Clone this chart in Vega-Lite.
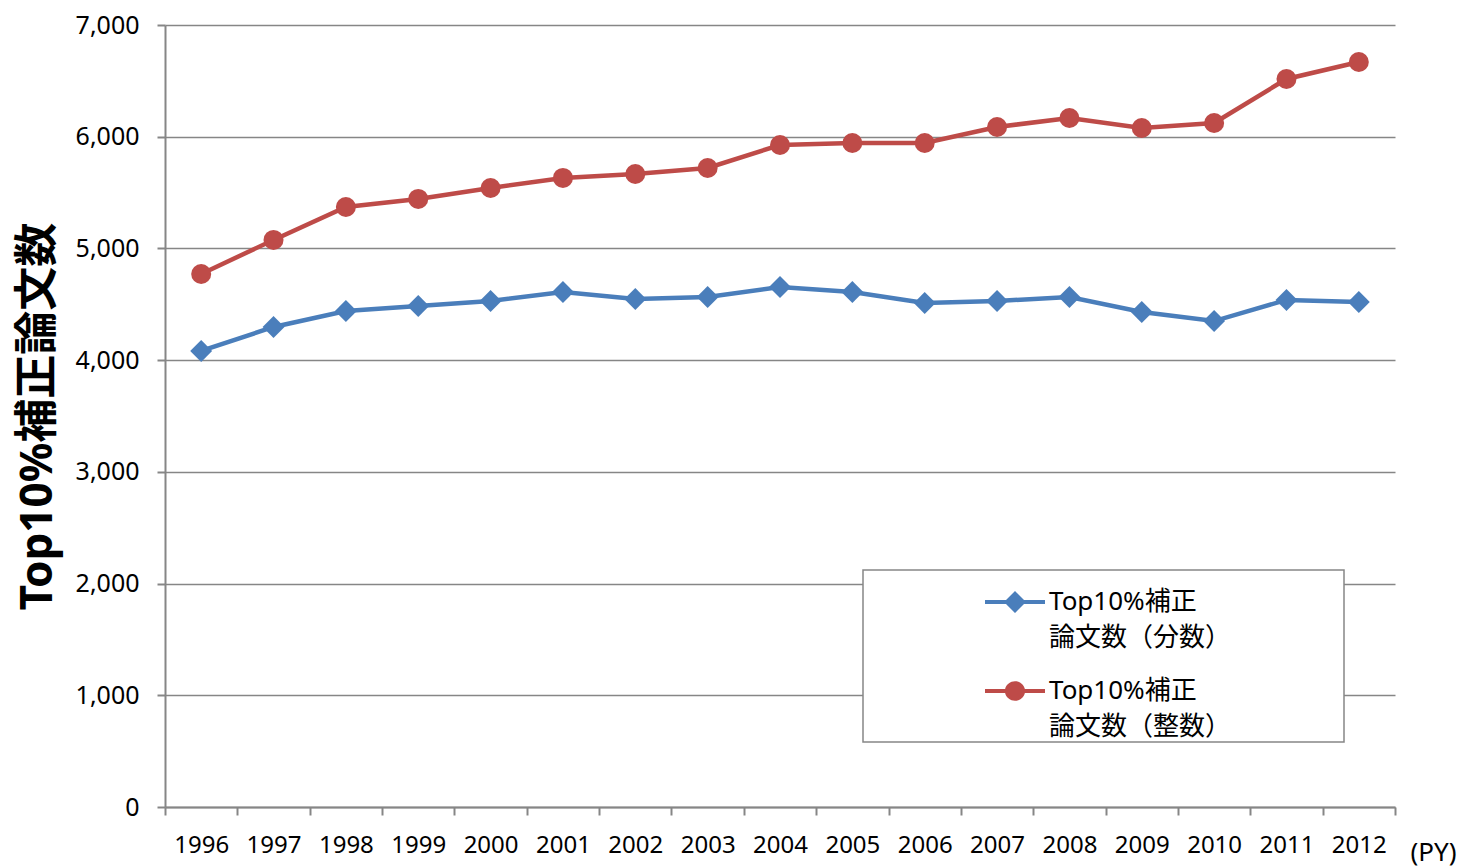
{
  "$schema": "https://vega.github.io/schema/vega-lite/v6.json",
  "width": 1230,
  "height": 782,
  "autosize": {"type": "none"},
  "padding": {"left": 165, "top": 25, "right": 71, "bottom": 60},
  "background": "white",
  "config": {"view": {"stroke": null}, "font": "'Noto Sans', 'Noto Sans CJK JP'"},
  "data": {"values": [
    {"year": "1996", "series": "Top10%補正論文数（分数）", "value": 4082},
    {"year": "1997", "series": "Top10%補正論文数（分数）", "value": 4297},
    {"year": "1998", "series": "Top10%補正論文数（分数）", "value": 4440},
    {"year": "1999", "series": "Top10%補正論文数（分数）", "value": 4485},
    {"year": "2000", "series": "Top10%補正論文数（分数）", "value": 4530},
    {"year": "2001", "series": "Top10%補正論文数（分数）", "value": 4610},
    {"year": "2002", "series": "Top10%補正論文数（分数）", "value": 4548},
    {"year": "2003", "series": "Top10%補正論文数（分数）", "value": 4565},
    {"year": "2004", "series": "Top10%補正論文数（分数）", "value": 4655},
    {"year": "2005", "series": "Top10%補正論文数（分数）", "value": 4610},
    {"year": "2006", "series": "Top10%補正論文数（分数）", "value": 4512},
    {"year": "2007", "series": "Top10%補正論文数（分数）", "value": 4530},
    {"year": "2008", "series": "Top10%補正論文数（分数）", "value": 4565},
    {"year": "2009", "series": "Top10%補正論文数（分数）", "value": 4431},
    {"year": "2010", "series": "Top10%補正論文数（分数）", "value": 4350},
    {"year": "2011", "series": "Top10%補正論文数（分数）", "value": 4539},
    {"year": "2012", "series": "Top10%補正論文数（分数）", "value": 4521},
    {"year": "1996", "series": "Top10%補正論文数（整数）", "value": 4771},
    {"year": "1997", "series": "Top10%補正論文数（整数）", "value": 5076},
    {"year": "1998", "series": "Top10%補正論文数（整数）", "value": 5371},
    {"year": "1999", "series": "Top10%補正論文数（整数）", "value": 5443},
    {"year": "2000", "series": "Top10%補正論文数（整数）", "value": 5541},
    {"year": "2001", "series": "Top10%補正論文数（整数）", "value": 5631},
    {"year": "2002", "series": "Top10%補正論文数（整数）", "value": 5666},
    {"year": "2003", "series": "Top10%補正論文数（整数）", "value": 5720},
    {"year": "2004", "series": "Top10%補正論文数（整数）", "value": 5926},
    {"year": "2005", "series": "Top10%補正論文数（整数）", "value": 5944},
    {"year": "2006", "series": "Top10%補正論文数（整数）", "value": 5944},
    {"year": "2007", "series": "Top10%補正論文数（整数）", "value": 6087},
    {"year": "2008", "series": "Top10%補正論文数（整数）", "value": 6168},
    {"year": "2009", "series": "Top10%補正論文数（整数）", "value": 6078},
    {"year": "2010", "series": "Top10%補正論文数（整数）", "value": 6123},
    {"year": "2011", "series": "Top10%補正論文数（整数）", "value": 6517},
    {"year": "2012", "series": "Top10%補正論文数（整数）", "value": 6669}
  ]},
  "encoding": {
    "x": {
      "field": "year", "type": "ordinal",
      "scale": {"type": "band", "paddingInner": 0, "paddingOuter": 0},
      "axis": {
        "title": "(PY)", "labelAngle": 0, "tickBand": "extent",
        "tickSize": 8, "tickColor": "#868686", "tickWidth": 2,
        "domainColor": "#868686", "domainWidth": 2,
        "labelFontSize": 24, "labelPadding": 18, "labelColor": "black",
        "grid": false,
        "titleX": 1268, "titleY": 45, "titleAlign": "center", "titleBaseline": "middle",
        "titleFontSize": 26, "titleFontWeight": "normal", "titleColor": "black"
      }
    },
    "y": {
      "field": "value", "type": "quantitative",
      "scale": {"domain": [0, 7000], "nice": false},
      "axis": {
        "title": "Top10%補正論文数",
        "values": [0, 1000, 2000, 3000, 4000, 5000, 6000, 7000],
        "format": ",.0f",
        "tickSize": 8, "tickColor": "#868686", "tickWidth": 2,
        "domainColor": "#868686", "domainWidth": 2,
        "grid": true, "gridColor": "#868686", "gridWidth": 1.5,
        "labelFontSize": 25, "labelPadding": 18, "labelColor": "black",
        "titleFontSize": 44, "titleFontWeight": "bold", "titleColor": "black",
        "titleX": -127, "titleBaseline": "middle"
      }
    },
    "color": {
      "field": "series", "type": "nominal",
      "scale": {"domain": ["Top10%補正論文数（分数）", "Top10%補正論文数（整数）"], "range": ["#4A7EBB", "#BE4B48"]},
      "legend": {
        "orient": "none", "legendX": 698, "legendY": 545, "title": null,
        "padding": 2, "symbolOffset": 120, "labelOffset": 4, "symbolSize": 3600,
        "labelFontSize": 26, "labelColor": "black", "rowPadding": 10, "labelLimit": 0,
        "strokeColor": "#868686", "fillColor": "white",
        "labelExpr": "[substring(datum.label, 0, 8), substring(datum.label, 8) + '　　　　\u2002\u2005\u200b']",
        "encode": {
          "legend": {"update": {"strokeWidth": {"value": 1.5}}},
          "symbols": {"update": {
            "shape": {"signal": "datum.value === 'Top10%補正論文数（分数）' ? 'M-1,-0.07L-0.3,-0.07L0,-0.37L0.3,-0.07L1,-0.07L1,0.07L0.3,0.07L0,0.37L-0.3,0.07L-1,0.07Z' : 'M-1,-0.07L-0.33,-0.07A0.34,0.34,0,0,1,0.33,-0.07L1,-0.07L1,0.07L0.33,0.07A0.34,0.34,0,0,1,-0.33,0.07L-1,0.07Z'"},
            "fill": {"signal": "datum.value === 'Top10%補正論文数（分数）' ? '#4A7EBB' : '#BE4B48'"},
            "stroke": {"value": "transparent"},
            "strokeWidth": {"value": 0},
            "opacity": {"value": 1},
            "size": {"value": 3600}
          }},
          "labels": {"update": {"lineHeight": {"value": 36}}}
        }
      }
    }
  },
  "layer": [
    {"mark": {"type": "line", "strokeWidth": 4.5}},
    {
      "transform": [{"filter": "datum.series === 'Top10%補正論文数（分数）'"}],
      "mark": {"type": "point", "shape": "diamond", "filled": true, "opacity": 1, "size": 480}
    },
    {
      "transform": [{"filter": "datum.series === 'Top10%補正論文数（整数）'"}],
      "mark": {"type": "point", "shape": "circle", "filled": true, "opacity": 1, "size": 400}
    }
  ]
}
